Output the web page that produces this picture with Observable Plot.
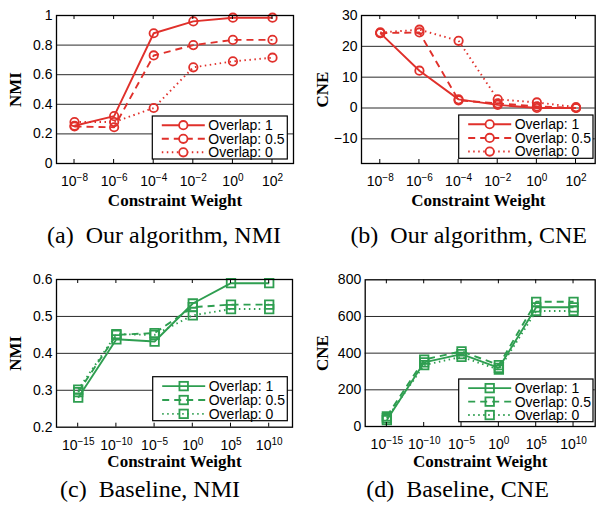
<!DOCTYPE html>
<html><head><meta charset="utf-8">
<script src="https://cdn.jsdelivr.net/npm/d3@7"></script>
<script src="https://cdn.jsdelivr.net/npm/@observablehq/plot@0.6"></script>
<style>
body{margin:0;background:#fff;}
#wrap{position:relative;width:597px;height:506px;overflow:hidden;background:#fff;}
.panel{position:absolute;}
.panel svg{overflow:visible;}
.cap{position:absolute;font-family:"Liberation Serif","Times New Roman",serif;font-size:24px;white-space:pre;transform:translateX(-50%);line-height:1;color:#000;}
</style></head><body><div id="wrap"></div><script>
// ---- data ----
const seriesNames = ["Overlap: 1", "Overlap: 0.5", "Overlap: 0"];
const expOurs = [-8, -6, -4, -2, 0, 2];
const expBase = [-15, -10, -5, 0, 5, 10];

const oursNMI1 = [0.255, 0.32, 0.88, 0.96, 0.985, 0.985];
const oursNMI05 = [0.25, 0.245, 0.73, 0.80, 0.835, 0.835];
const oursNMI0 = [0.28, 0.28, 0.375, 0.65, 0.69, 0.715];

const oursCNE1 = [24.3, 12.1, 2.8, 1.0, 0.0, 0.0];
const oursCNE05 = [24.3, 24.5, 2.5, 1.5, 0.5, 0.0];
const oursCNE0 = [24.5, 25.4, 21.8, 2.8, 1.8, 0.3];

const baseNMI1 = [0.28, 0.438, 0.432, 0.535, 0.59, 0.59];
const baseNMI05 = [0.295, 0.45, 0.455, 0.525, 0.532, 0.532];
const baseNMI0 = [0.302, 0.452, 0.45, 0.503, 0.52, 0.52];

const baseCNE1 = [35, 350, 395, 320, 650, 650];
const baseCNE05 = [55, 365, 410, 335, 680, 680];
const baseCNE0 = [45, 335, 380, 310, 630, 630];

const ticksNMIa = [0, 0.2, 0.4, 0.6, 0.8, 1];
const ticksCNEb = [-10, 0, 10, 20, 30];
const ticksNMIc = [0.2, 0.3, 0.4, 0.5, 0.6];
const ticksCNEd = [0, 200, 400, 600, 800];

const captions = ["(a)  Our algorithm, NMI", "(b)  Our algorithm, CNE", "(c)  Baseline, NMI", "(d)  Baseline, CNE"];

// ---- styling ----
const RED = "#e0302b", GREEN = "#2e9e50";
const dashes = [null, "7,5", "1.5,3.5"];
const sans = "'Liberation Sans', Arial, sans-serif";
const serif = "'Liberation Serif', 'Times New Roman', serif";

const panels = [
  {left: 0, top: 0, width: 297, height: 215, frame: {l: 56, t: 15, r: 293, b: 163},
   xDomain: [0.545, 6.53], yDomain: [0, 1], yTicks: ticksNMIa, exps: expOurs,
   values: [oursNMI1, oursNMI05, oursNMI0], color: RED, symbol: "circle", r: 4.2,
   yLabel: "NMI", yLabelOff: 41, xLabelOff: 42, legend: {l: 152.3, t: 116, w: 135, h: 43},
   caption: captions[0], capX: 164, capBase: 242.7},
  {left: 297, top: 0, width: 300, height: 215, frame: {l: 361, t: 15, r: 594.7, b: 163},
   xDomain: [0.52, 6.49], yDomain: [-18, 30], yTicks: ticksCNEb, exps: expOurs,
   values: [oursCNE1, oursCNE05, oursCNE0], color: RED, symbol: "circle", r: 4.2,
   yLabel: "CNE", yLabelOff: 39, xLabelOff: 42, legend: {l: 458.7, t: 115, w: 134.3, h: 43.3},
   caption: captions[1], capX: 468.7, capBase: 242.7},
  {left: 0, top: 264, width: 297, height: 210, frame: {l: 56, t: 279, r: 292, b: 426.7},
   xDomain: [0.432, 6.61], yDomain: [0.2, 0.6], yTicks: ticksNMIc, exps: expBase,
   values: [baseNMI1, baseNMI05, baseNMI0], color: GREEN, symbol: "square", r: 4.8,
   yLabel: "NMI", yLabelOff: 41, xLabelOff: 40, legend: {l: 152.7, t: 376.7, w: 134.6, h: 44},
   caption: captions[2], capX: 150, capBase: 497.5},
  {left: 297, top: 264, width: 300, height: 210, frame: {l: 364.7, t: 279.3, r: 594.7, b: 426},
   xDomain: [0.42, 6.58], yDomain: [0, 800], yTicks: ticksCNEd, exps: expBase,
   values: [baseCNE1, baseCNE05, baseCNE0], color: GREEN, symbol: "square", r: 4.8,
   yLabel: "CNE", yLabelOff: 42.7, xLabelOff: 40.5, legend: {l: 458.7, t: 379, w: 134.3, h: 42.7},
   caption: captions[3], capX: 457.5, capBase: 497.5}
];

const wrap = document.getElementById("wrap");

function signed(n) { return n < 0 ? "\u2212" + (-n) : String(n); }

panels.forEach(p => {
  const f = p.frame;
  const idx = p.exps.map((e, i) => i + 1);
  const seriesMarks = [];
  [2, 1, 0].forEach(si => {
    const rows = p.values[si].map((v, i) => ({x: i + 1, y: v}));
    seriesMarks.push(Plot.line(rows, {x: "x", y: "y", stroke: p.color, strokeWidth: 1.9,
      strokeDasharray: dashes[si] || undefined, strokeLinecap: "butt"}));
    seriesMarks.push(Plot.dot(rows, {x: "x", y: "y", r: p.r, symbol: p.symbol, fill: "none",
      stroke: p.color, strokeWidth: 1.8}));
  });
  const plot = Plot.plot({
    width: p.width, height: p.height,
    marginLeft: f.l - p.left, marginRight: p.left + p.width - f.r,
    marginTop: f.t - p.top, marginBottom: p.top + p.height - f.b,
    x: {domain: p.xDomain, axis: null},
    y: {domain: p.yDomain, axis: null},
    style: {fontFamily: sans, fontSize: "14px", background: "transparent", color: "black"},
    marks: [
      Plot.ruleY(p.yTicks.filter(t => t > p.yDomain[0] && t < p.yDomain[1]), {stroke: "#2a2a2a", strokeWidth: 1}),
      ...seriesMarks,
      Plot.frame({stroke: "black", strokeWidth: 1.3}),
      Plot.axisY(p.yTicks, {tickSize: 0, tickPadding: 4, fontSize: 14, label: null, fill: "black", tickFormat: signed}),
      Plot.axisX(idx, {tickSize: 0, tickPadding: 13, fontSize: 14, label: null, tickFormat: () => "10", fill: "black"}),
      Plot.text([p.yLabel], {frameAnchor: "left", rotate: -90, dx: -p.yLabelOff, textAnchor: "middle",
        lineAnchor: "middle", fontFamily: serif, fontWeight: "bold", fontSize: 17, fill: "black"}),
      Plot.text(["Constraint Weight"], {frameAnchor: "bottom", dy: p.xLabelOff, textAnchor: "middle",
        lineAnchor: "bottom", fontFamily: serif, fontWeight: "bold", fontSize: 17, fill: "black"})
    ]
  });
  const svg = d3.select(plot);
  const xs = plot.scale("x");
  // superscript exponents on x tick labels
  svg.selectAll('g[aria-label="x-axis tick label"] text').each(function (d, i) {
    d3.select(this).append("tspan").attr("dy", "-0.5em").attr("font-size", "10px").text(signed(p.exps[i]));
  });
  // inward tick marks top and bottom
  const mt = f.t - p.top, mb = f.b - p.top;
  const tg = svg.append("g").attr("stroke", "black").attr("stroke-width", 1);
  idx.forEach(i => {
    const x = xs.apply(i);
    tg.append("line").attr("x1", x).attr("x2", x).attr("y1", mt).attr("y2", mt + 4);
    tg.append("line").attr("x1", x).attr("x2", x).attr("y1", mb).attr("y2", mb - 4);
  });
  // legend
  const L = p.legend;
  const lx = L.l - p.left, ly = L.t - p.top;
  const lg = svg.append("g").attr("transform", `translate(${lx},${ly})`).attr("text-anchor", "start");
  lg.append("rect").attr("width", L.w).attr("height", L.h).attr("fill", "white").attr("stroke", "black").attr("stroke-width", 1.2);
  const rowY = [9.2, 22.8, 36.3].map(v => v * L.h / 43);
  seriesNames.forEach((name, si) => {
    const y = rowY[si];
    lg.append("line").attr("x1", 9.5).attr("x2", 52.5).attr("y1", y).attr("y2", y)
      .attr("stroke", p.color).attr("stroke-width", 1.9).attr("stroke-dasharray", dashes[si]);
    if (p.symbol === "circle") {
      lg.append("circle").attr("cx", 31).attr("cy", y).attr("r", p.r).attr("fill", "white")
        .attr("stroke", p.color).attr("stroke-width", 1.8);
    } else {
      const s = p.r * Math.sqrt(Math.PI);
      lg.append("rect").attr("x", 31 - s / 2).attr("y", y - s / 2).attr("width", s).attr("height", s)
        .attr("fill", "none").attr("stroke", p.color).attr("stroke-width", 1.8);
    }
    lg.append("text").attr("x", 56).attr("y", y).attr("dy", "0.35em").attr("font-family", sans)
      .attr("text-anchor", "start").attr("font-size", 14).attr("fill", "black").text(name);
  });
  const div = document.createElement("div");
  div.className = "panel";
  div.style.left = p.left + "px";
  div.style.top = p.top + "px";
  div.appendChild(plot);
  wrap.appendChild(div);
  const cap = document.createElement("div");
  cap.className = "cap";
  cap.style.left = p.capX + "px";
  cap.style.top = (p.capBase - 20.1) + "px";
  cap.textContent = p.caption;
  wrap.appendChild(cap);
});
</script></body></html>
